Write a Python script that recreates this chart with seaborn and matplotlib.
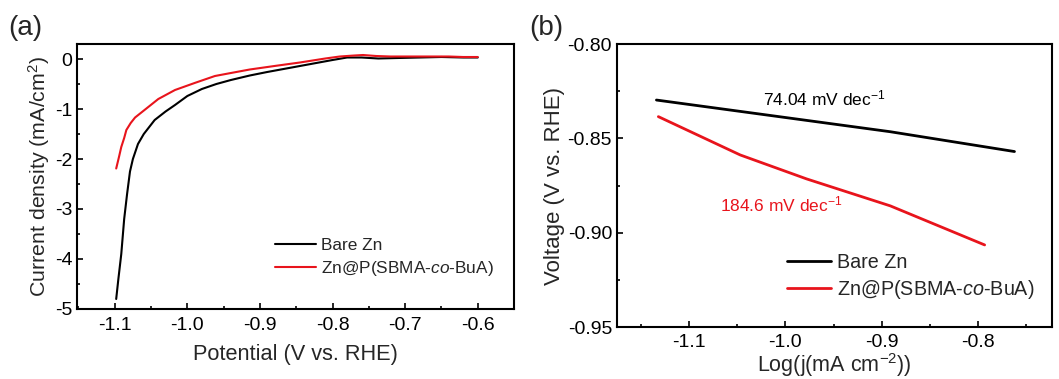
import numpy as np
import pandas as pd
import matplotlib
matplotlib.use("Agg")
import matplotlib.pyplot as plt
import seaborn as sns
from matplotlib.ticker import MultipleLocator, AutoMinorLocator

# ---------------------------------------------------------------------------
# Data
# ---------------------------------------------------------------------------

# (a) LSV curves
bare_potential = [-1.098, -1.095, -1.091, -1.087, -1.083, -1.079, -1.075, -1.068,
                  -1.060, -1.045, -1.030, -1.017, -1.000, -0.980, -0.960, -0.940,
                  -0.914, -0.890, -0.860, -0.830, -0.800, -0.780, -0.760, -0.737,
                  -0.710, -0.680, -0.650, -0.620, -0.600]
bare_current = [-4.80, -4.40, -3.90, -3.20, -2.70, -2.25, -2.00, -1.70,
                -1.50, -1.22, -1.05, -0.92, -0.74, -0.60, -0.50, -0.42,
                -0.33, -0.26, -0.18, -0.10, -0.02, 0.03, 0.03, 0.01,
                0.02, 0.03, 0.04, 0.03, 0.03]

coat_potential = [-1.098, -1.094, -1.091, -1.087, -1.084, -1.078, -1.072, -1.059,
                  -1.040, -1.017, -0.990, -0.962, -0.940, -0.914, -0.880, -0.845,
                  -0.810, -0.790, -0.770, -0.758, -0.740, -0.720, -0.698, -0.670,
                  -0.640, -0.620, -0.600]
coat_current = [-2.19, -1.95, -1.76, -1.58, -1.42, -1.28, -1.17, -1.02,
                -0.80, -0.62, -0.48, -0.34, -0.28, -0.21, -0.14, -0.07,
                0.01, 0.05, 0.07, 0.08, 0.06, 0.05, 0.05, 0.05,
                0.05, 0.04, 0.04]

# (b) Tafel fits
bare_logj = [-1.134, -0.891, -0.762]
bare_volt = [-0.8297, -0.8465, -0.857]
coat_logj = [-1.132, -1.047, -0.978, -0.891, -0.793]
coat_volt = [-0.8385, -0.8588, -0.8715, -0.8858, -0.9065]

labels = ["Bare Zn", "Zn@P(SBMA-$\\mathit{co}$-BuA)"]
colors = ["black", "#e8141c"]
slopes = ["74.04 mV dec$^{-1}$", "184.6 mV dec$^{-1}$"]

# ---------------------------------------------------------------------------
# Style
# ---------------------------------------------------------------------------

sns.set_style("ticks")
plt.rcParams["font.family"] = ["Liberation Sans", "DejaVu Sans"]
plt.rcParams["mathtext.fontset"] = "custom"
plt.rcParams["mathtext.rm"] = "Liberation Sans"
plt.rcParams["mathtext.it"] = "Liberation Sans:italic"
plt.rcParams["mathtext.bf"] = "Liberation Sans:bold"
plt.rcParams["mathtext.default"] = "regular"
plt.rcParams["axes.unicode_minus"] = False


def style_axis(ax):
    for sp in ax.spines.values():
        sp.set_visible(True)
        sp.set_linewidth(1.5)
        sp.set_color("black")
    ax.tick_params(which="both", direction="in", colors="black",
                   labelsize=14, width=1.2)
    ax.tick_params(which="major", length=4.5)
    ax.tick_params(which="minor", length=2.5)
    ax.tick_params(axis="x", pad=6)


fig = plt.figure(figsize=(10.59, 3.79), dpi=100)
fig.patch.set_facecolor("white")

# ---------------------------------------------------------------------------
# (a)
# ---------------------------------------------------------------------------

ax1 = fig.add_axes([0.0727, 0.1847, 0.4127, 0.6992])
df_a = pd.concat([
    pd.DataFrame({"Potential": bare_potential, "Current": bare_current, "Sample": labels[0]}),
    pd.DataFrame({"Potential": coat_potential, "Current": coat_current, "Sample": labels[1]}),
])
sns.lineplot(data=df_a, x="Potential", y="Current", hue="Sample",
             palette=colors, sort=False, estimator=None, linewidth=1.5, ax=ax1)
ax1.set_xlim(-1.152, -0.55)
ax1.set_ylim(-5.0, 0.3)
ax1.xaxis.set_major_locator(MultipleLocator(0.1))
ax1.xaxis.set_minor_locator(AutoMinorLocator(2))
ax1.yaxis.set_major_locator(MultipleLocator(1))
ax1.yaxis.set_minor_locator(AutoMinorLocator(2))
ax1.xaxis.set_major_formatter(plt.FormatStrFormatter("%.1f"))
style_axis(ax1)
ax1.set_xlabel("Potential (V vs. RHE)", fontsize=15.7, labelpad=7)
ax1.set_ylabel("Current density (mA/cm$^2$)", fontsize=15.4, labelpad=2)
leg = ax1.legend(loc="lower right", frameon=False, fontsize=12.4,
                 handlelength=2.4, handletextpad=0.3, labelspacing=0.35,
                 bbox_to_anchor=(0.99, 0.06))
for line in leg.get_lines():
    line.set_linewidth(1.5)
fig.text(0.008, 0.96, "(a)", fontsize=20, va="top", ha="left")

# ---------------------------------------------------------------------------
# (b)
# ---------------------------------------------------------------------------

ax2 = fig.add_axes([0.5826, 0.1372, 0.4108, 0.7467])
df_b = pd.concat([
    pd.DataFrame({"logj": bare_logj, "Voltage": bare_volt, "Sample": labels[0]}),
    pd.DataFrame({"logj": coat_logj, "Voltage": coat_volt, "Sample": labels[1]}),
])
sns.lineplot(data=df_b, x="logj", y="Voltage", hue="Sample",
             palette=colors, sort=False, estimator=None, linewidth=2.0, ax=ax2)
ax2.set_xlim(-1.175, -0.723)
ax2.set_ylim(-0.95, -0.80)
ax2.xaxis.set_major_locator(MultipleLocator(0.1))
ax2.xaxis.set_minor_locator(AutoMinorLocator(2))
ax2.yaxis.set_major_locator(MultipleLocator(0.05))
ax2.yaxis.set_minor_locator(AutoMinorLocator(2))
ax2.xaxis.set_major_formatter(plt.FormatStrFormatter("%.1f"))
ax2.yaxis.set_major_formatter(plt.FormatStrFormatter("%.2f"))
style_axis(ax2)
ax2.tick_params(axis="x", pad=5)
ax2.set_xlabel("Log(j(mA cm$^{-2}$))", fontsize=15.5, labelpad=0)
ax2.set_ylabel("Voltage (V vs. RHE)", fontsize=16, labelpad=2)
ax2.text(-1.023, -0.8286, slopes[0], color=colors[0], fontsize=12.5,
         ha="left", va="center")
ax2.text(-1.068, -0.8853, slopes[1], color=colors[1], fontsize=12.5,
         ha="left", va="center")
leg2 = ax2.legend(loc="lower right", frameon=False, fontsize=14.2,
                  handlelength=2.2, handletextpad=0.3, labelspacing=0.3,
                  bbox_to_anchor=(1.0, 0.03))
for line in leg2.get_lines():
    line.set_linewidth(2.0)
fig.text(0.500, 0.96, "(b)", fontsize=20, va="top", ha="left")

fig.savefig("out.png", dpi=100, facecolor="white")
